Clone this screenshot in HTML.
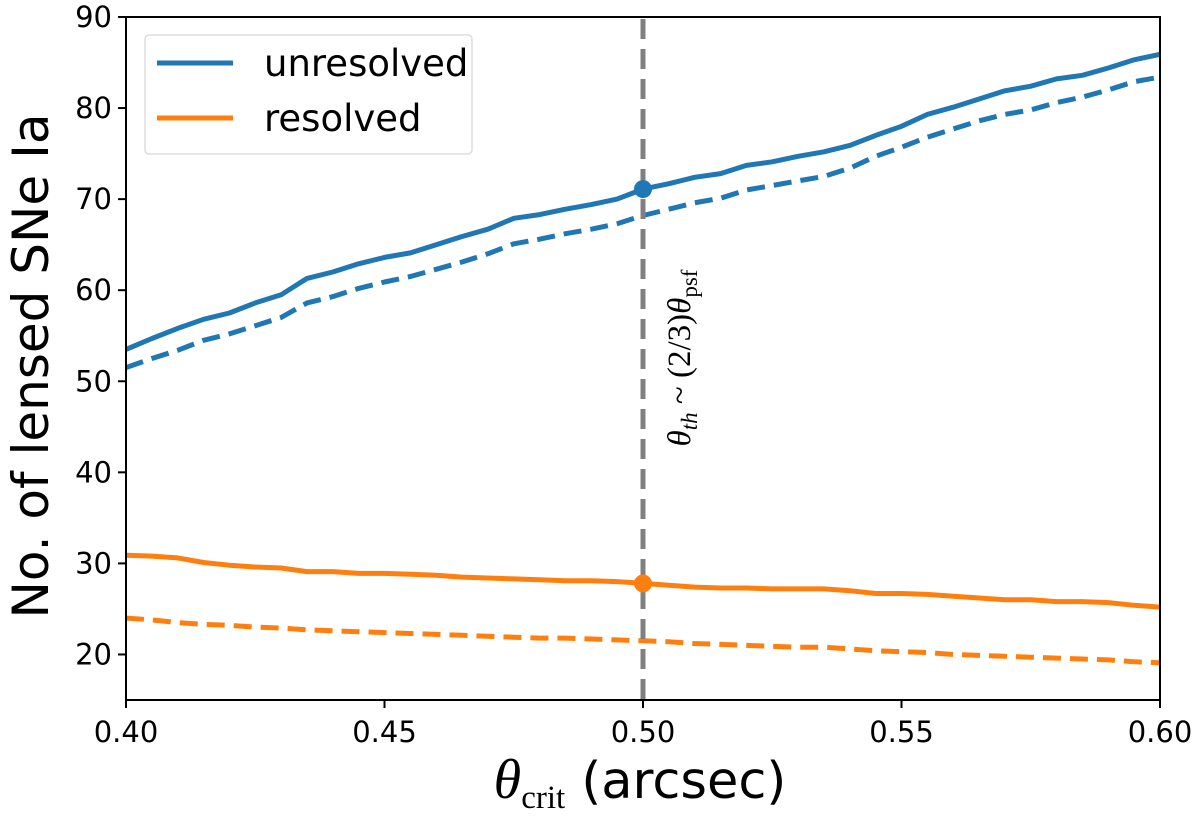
<!DOCTYPE html>
<html><head><meta charset="utf-8"><style>
body{margin:0;background:#fff}
svg{display:block;font-family:"DejaVu Sans","Liberation Sans",sans-serif}
</style></head><body>
<svg id="chart" width="1200" height="816" viewBox="0 0 1200 816" xmlns="http://www.w3.org/2000/svg">
<g id="plot"></g>
</svg>
<script>
const xs = [];
for (let i = 0; i <= 40; i++) xs.push(0.40 + i * 0.005);
const unresolvedSolid = [53.5,54.7,55.8,56.8,57.5,58.6,59.5,61.3,62.0,62.9,63.6,64.1,65.0,65.9,66.7,67.9,68.3,68.9,69.4,70.0,71.1,71.7,72.4,72.8,73.7,74.1,74.7,75.2,75.9,77.0,78.0,79.3,80.1,81.0,81.9,82.4,83.2,83.6,84.4,85.3,85.9];
const unresolvedDashed = [51.5,52.5,53.4,54.5,55.2,56.1,57.0,58.6,59.3,60.2,60.9,61.5,62.3,63.1,64.0,65.1,65.6,66.2,66.7,67.3,68.2,68.9,69.6,70.1,71.0,71.5,72.0,72.5,73.4,74.7,75.7,76.8,77.7,78.6,79.3,79.8,80.6,81.2,82.0,82.9,83.4];
const resolvedSolid = [30.9,30.8,30.6,30.1,29.8,29.6,29.5,29.1,29.1,28.9,28.9,28.8,28.7,28.5,28.4,28.3,28.2,28.1,28.1,28.0,27.8,27.6,27.4,27.3,27.3,27.2,27.2,27.2,27.0,26.7,26.7,26.6,26.4,26.2,26.0,26.0,25.8,25.8,25.7,25.4,25.2];
const resolvedDashed = [24.0,23.8,23.5,23.3,23.2,23.0,22.9,22.7,22.6,22.5,22.4,22.3,22.2,22.1,22.0,21.9,21.8,21.8,21.7,21.6,21.5,21.4,21.2,21.1,21.0,20.9,20.8,20.8,20.6,20.4,20.3,20.2,20.0,19.9,19.8,19.7,19.6,19.5,19.4,19.2,19.1];
const xTicks = [0.40,0.45,0.50,0.55,0.60];
const xTickLabels = ["0.40","0.45","0.50","0.55","0.60"];
const yTicks = [20,30,40,50,60,70,80,90];
const markerX = 0.50;
const markerUnresolved = 71.1;
const markerResolved = 27.8;

const L=126,R=1160,T=17,B=700,xmin=0.40,xmax=0.60,ymin=15,ymax=90;
const X=v=>L+(v-xmin)/(xmax-xmin)*(R-L);
const Y=v=>B-(v-ymin)/(ymax-ymin)*(B-T);
const NS="http://www.w3.org/2000/svg";
const g=document.getElementById('plot');
function mk(tag,attrs,parent){const e=document.createElementNS(NS,tag);for(const k in attrs)e.setAttribute(k,attrs[k]);(parent||g).appendChild(e);return e;}

function line(data,color,dash,name){
  const d=data.map((v,i)=>(i?'L':'M')+X(xs[i]).toFixed(1)+' '+Y(v).toFixed(1)).join(' ');
  const p=mk('path',{d:d,fill:'none',stroke:color,'stroke-width':5,'stroke-linejoin':'round'});
  if(dash)p.setAttribute('stroke-dasharray',dash);
  
  
}
line(unresolvedSolid,'#1f77b4',null,'unresolved-solid-line');
line(unresolvedDashed,'#1f77b4','18 9','unresolved-dashed-line');
line(resolvedSolid,'#ff7f0e',null,'resolved-solid-line');
line(resolvedDashed,'#ff7f0e','18 9','resolved-dashed-line');

const vl=mk('line',{x1:X(markerX),x2:X(markerX),y1:T+2,y2:B,stroke:'#808080','stroke-width':5,'stroke-dasharray':'20 10'});


const m1=mk('circle',{cx:X(markerX),cy:Y(markerUnresolved),r:9,fill:'#1f77b4'});


const m2=mk('circle',{cx:X(markerX),cy:Y(markerResolved),r:9,fill:'#ff7f0e'});



const ann=mk('text',{x:0,y:0,transform:'translate(690,358) rotate(-90)','text-anchor':'middle','font-family':'"Liberation Serif",serif','font-size':33,fill:'#000'});
ann.innerHTML='<tspan font-style="italic">θ</tspan><tspan font-style="italic" font-size="23" dy="7">th</tspan><tspan dy="-7"> ~ (2/3)</tspan><tspan font-style="italic">θ</tspan><tspan font-size="23" dy="7">psf</tspan>';



const frame=mk('rect',{x:L,y:T,width:R-L,height:B-T,fill:'none',stroke:'#000','stroke-width':2});



xTicks.forEach((t,i)=>{
  const tk=mk('line',{x1:X(t),x2:X(t),y1:B,y2:B+8,stroke:'#000','stroke-width':2});
  
  
  const tl=mk('text',{x:X(t),y:B+42,'text-anchor':'middle','font-size':29,fill:'#000'});
  tl.textContent=xTickLabels[i];
  
  
});
yTicks.forEach(t=>{
  const tk=mk('line',{x1:L-8,x2:L,y1:Y(t),y2:Y(t),stroke:'#000','stroke-width':2});
  
  
  const tl=mk('text',{x:L-14,y:Y(t)+10,'text-anchor':'end','font-size':29,fill:'#000'});
  tl.textContent=String(t);
  
  
});

const yt=mk('text',{x:0,y:0,transform:'translate(48,366) rotate(-90)','text-anchor':'middle','font-size':50,fill:'#000'});
yt.textContent='No. of lensed SNe Ia';


const xt=mk('text',{x:640,y:798,'text-anchor':'middle','font-size':51,fill:'#000'});
xt.innerHTML='<tspan font-family="Liberation Serif,serif" font-style="italic" font-size="56">θ</tspan><tspan font-family="Liberation Serif,serif" font-size="33" dy="10">crit</tspan><tspan dy="-10">  (arcsec)</tspan>';



const lg=mk('g',{});


mk('rect',{x:145,y:35,width:327,height:119,rx:4,fill:'#fff','fill-opacity':0.8,stroke:'#ddd','stroke-width':1.5},lg);
[['unresolved','#1f77b4',63],['resolved','#ff7f0e',118]].forEach(([n,c,y])=>{
  const e=mk('g',{},lg);
  
  
  mk('line',{x1:157,x2:233,y1:y,y2:y,stroke:c,'stroke-width':5},e);
  const t=mk('text',{x:264,y:y+13,'font-size':37,fill:'#000'},e);
  t.textContent=n;
});
</script>
</body></html>
